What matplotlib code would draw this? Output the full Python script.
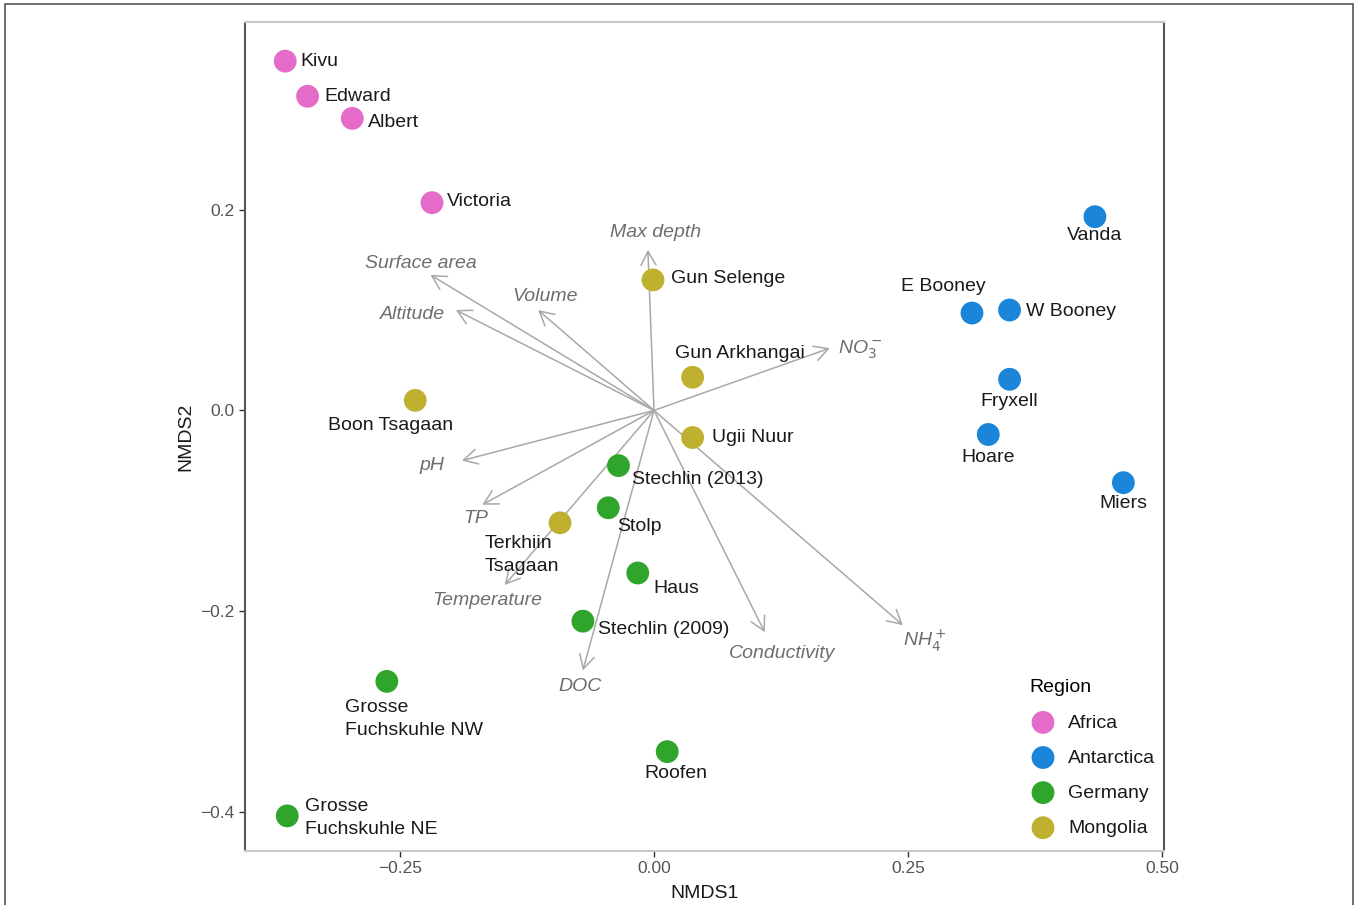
#!/usr/bin/env python
"""NMDS ordination of lakes with environmental fit vectors."""

import matplotlib.pyplot as plt
from matplotlib.patches import Rectangle

plt.rcParams["font.family"] = ["Liberation Sans", "DejaVu Sans"]

# Sites
lakes = [
    "Kivu", "Edward", "Albert", "Victoria",
    "Vanda", "E Booney", "W Booney", "Fryxell", "Hoare", "Miers",
    "Gun Selenge", "Gun Arkhangai", "Boon Tsagaan", "Ugii Nuur", "Terkhiin\nTsagaan",
    "Stechlin (2013)", "Stolp", "Haus", "Stechlin (2009)",
    "Grosse\nFuchskuhle NW", "Roofen", "Grosse\nFuchskuhle NE",
]
region = [
    "Africa", "Africa", "Africa", "Africa",
    "Antarctica", "Antarctica", "Antarctica", "Antarctica", "Antarctica", "Antarctica",
    "Mongolia", "Mongolia", "Mongolia", "Mongolia", "Mongolia",
    "Germany", "Germany", "Germany", "Germany",
    "Germany", "Germany", "Germany",
]
nmds1 = [
    -0.363, -0.341, -0.297, -0.2185,
    0.434, 0.313, 0.350, 0.350, 0.329, 0.462,
    -0.001, 0.038, -0.235, 0.038, -0.0925,
    -0.035, -0.045, -0.016, -0.070,
    -0.263, 0.013, -0.361,
]
nmds2 = [
    0.348, 0.313, 0.291, 0.207,
    0.193, 0.097, 0.100, 0.031, -0.024, -0.072,
    0.130, 0.033, 0.010, -0.027, -0.112,
    -0.055, -0.097, -0.162, -0.210,
    -0.270, -0.340, -0.404,
]

# Environmental vectors
env_vars = [
    "Max depth", "Surface area", "Altitude", "Volume", r"NO$_3^-$",
    "pH", "TP", "Temperature", "DOC", "Conductivity", r"NH$_4^+$",
]
env_x = [-0.006, -0.220, -0.195, -0.114, 0.173, -0.189, -0.169, -0.147, -0.070, 0.109, 0.245]
env_y = [0.160, 0.135, 0.100, 0.100, 0.062, -0.050, -0.094, -0.174, -0.259, -0.221, -0.214]

region_names = ["Africa", "Antarctica", "Germany", "Mongolia"]
region_colors = ["#e46bc8", "#1b86d9", "#2fa52c", "#c0b030"]

# label placement (pixel offsets from point, horizontal alignment)
label_offsets = [
    (15, 0, "left"), (17, 0, "left"), (16, -4, "left"), (15, 1, "left"),
    (0, -19, "center"), (-29, 27, "center"), (16, -1, "left"), (0, -22, "center"),
    (0, -23, "center"), (0, -21, "center"),
    (18, 1, "left"), (47, 24, "center"), (-25, -25, "center"), (19, 0, "left"),
    (-75, -32, "left"),
    (14, -14, "left"), (9, -19, "left"), (16, -16, "left"), (15, -8, "left"),
    (-42, -38, "left"), (9, -22, "center"), (18, -2, "left"),
]
# env label offsets from arrow tip (pixels)
env_label_offsets = [
    (8, 17, "center"), (-10, 11, "center"), (-43, -4, "center"), (7, 14, "center"),
    (8, -2, "left"), (-30, -5, "center"), (-7, -14, "center"), (-17, -15, "center"),
    (-3, -16, "center"), (17, -21, "center"), (22, -15, "center"),
]

fig = plt.figure(figsize=(13.58, 9.05), dpi=100)
fig.patches.append(Rectangle((5 / 1358, -0.01), 1348 / 1358, 1.01 - 4 / 905,
                             transform=fig.transFigure, fill=False,
                             edgecolor="#555555", linewidth=1.2))
ax = fig.add_axes([245 / 1358, 54 / 905, 919 / 1358, 829 / 905])

ax.set_xlim(-0.4026, 0.502)
ax.set_ylim(-0.439, 0.387)

grey = "#a8a8a8"
for name, ex, ey, (dx, dy, ha) in zip(env_vars, env_x, env_y, env_label_offsets):
    ax.annotate("", xy=(ex, ey), xytext=(0, 0),
                arrowprops=dict(arrowstyle="->,head_length=0.55,head_width=0.3",
                                color=grey, lw=1.1, shrinkA=0, shrinkB=0,
                                mutation_scale=18))
    ax.annotate(name, xy=(ex, ey), xytext=(dx, dy), textcoords="offset pixels",
                ha=ha, va="center", fontsize=14, style="italic", color="#6e6e6e")

for name, col in zip(region_names, region_colors):
    xs = [x for x, r in zip(nmds1, region) if r == name]
    ys = [y for y, r in zip(nmds2, region) if r == name]
    ax.scatter(xs, ys, s=270, color=col, edgecolors="none", label=name, zorder=3)

for name, x, y, (dx, dy, ha) in zip(lakes, nmds1, nmds2, label_offsets):
    ax.annotate(name, xy=(x, y), xytext=(dx, dy), textcoords="offset pixels",
                ha=ha, va="center", fontsize=14, color="#1a1a1a",
                linespacing=1.45, zorder=4)

ax.set_xticks([-0.25, 0.0, 0.25, 0.50])
ax.set_xticklabels(["\u22120.25", "0.00", "0.25", "0.50"])
ax.set_yticks([-0.4, -0.2, 0.0, 0.2])
ax.set_yticklabels(["\u22120.4", "\u22120.2", "0.0", "0.2"])
ax.tick_params(labelsize=12.5, labelcolor="#555555", color="#333333",
               length=4, width=1)
ax.set_xlabel("NMDS1", fontsize=14, color="#1a1a1a", labelpad=6)
ax.set_ylabel("NMDS2", fontsize=14, color="#1a1a1a", labelpad=4)

for side in ["left", "right"]:
    ax.spines[side].set_color("#555555")
    ax.spines[side].set_linewidth(1.5)
for side in ["top", "bottom"]:
    ax.spines[side].set_color("#c8c8c8")
    ax.spines[side].set_linewidth(1.5)

leg = ax.legend(title="Region", loc="upper left", bbox_to_anchor=(0.853, 0.207),
                frameon=False, fontsize=14, title_fontsize=14, borderpad=0,
                borderaxespad=0, labelspacing=0.9, handletextpad=0.57,
                handlelength=1.45, alignment="left")
for t in leg.get_texts():
    t.set_color("#1a1a1a")

fig.savefig("out.png", dpi=100)
